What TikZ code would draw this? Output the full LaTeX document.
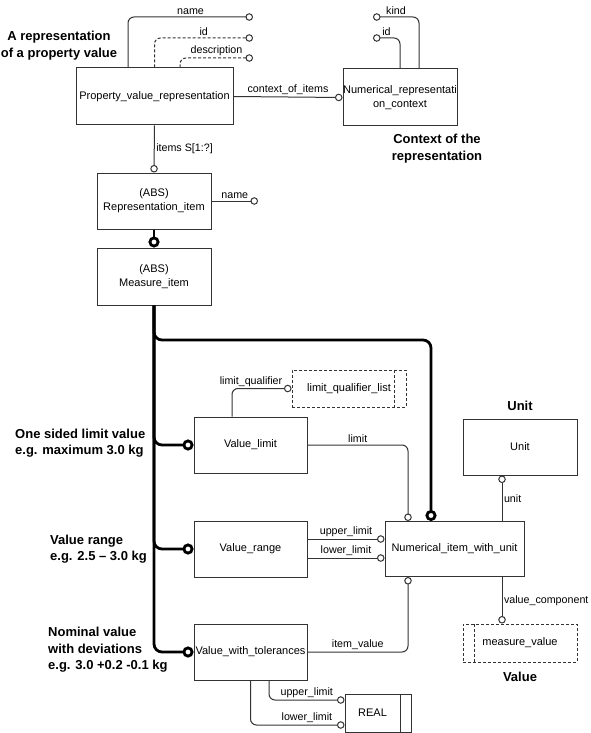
\documentclass[tikz,border=0pt]{standalone}
\usepackage{fontspec}
\setmainfont{Liberation Sans}
\usetikzlibrary{arrows.meta}
\tikzstyle{entity} = [rectangle, draw=black!80, line width=1pt, align=center, inner sep=0pt,
font=\fontsize{11}{14}\selectfont]
\tikzstyle{attr} = [draw=black!80, line width=1pt, -{Circle[open,length=7.5pt,width=7.5pt]}]
\tikzstyle{subtype} = [line width=2.8pt, rounded corners=8pt, -{Circle[open,length=11pt,width=11pt]}]
\tikzstyle{tag} = [inner sep=1.5pt, font=\fontsize{10.7}{12}\selectfont]
\tikzstyle{note} = [inner sep=0pt, font=\fontsize{13}{16.5}\selectfont\bfseries]
\tikzstyle{optional} = [dash pattern=on 3pt off 2pt]

\begin{document}
\begin{tikzpicture}[x=1pt, y=-1pt]
        \useasboundingbox (0,0) rectangle (590,733);

        % entities
        \node[entity, minimum width=157pt, minimum height=57pt] (pvr) at (154.5,96.5) {Property\_value\_representation};
        \node[entity, minimum width=114pt, minimum height=57pt] (nrc) at (400,97.5) {Numerical\_representati\\on\_context};
        \node[entity, minimum width=114pt, minimum height=56pt] (ri) at (154,201) {(ABS)\\Representation\_item};
        \node[entity, minimum width=114pt, minimum height=57pt] (mi) at (154,276.5) {(ABS)\\Measure\_item};
        \node[entity, minimum width=113pt, minimum height=56pt] (vl) at (250.5,445) {Value\_limit};
        \node[entity, optional, minimum width=114pt, minimum height=37pt] (lql) at (349,388.5) {limit\_qualifier\_list};
        \node[entity, minimum width=113pt, minimum height=56pt] (vr) at (250.5,549) {Value\_range};
        \node[entity, minimum width=139pt, minimum height=55pt] (niwu) at (454.5,549) {Numerical\_item\_with\_unit};
        \node[entity, minimum width=114pt, minimum height=56pt] (unit) at (520,447) {Unit};
        \node[entity, optional, minimum width=114pt, minimum height=38pt] (mv) at (520,643) {measure\_value};
        \node[entity, minimum width=113pt, minimum height=56pt] (vwt) at (250.5,652) {Value\_with\_tolerances};
        \node[entity, minimum width=66pt, minimum height=38pt] (real) at (378,713) {\hspace*{-11pt}REAL};

        % inner bars of the type boxes
        \draw[draw=black!80, line width=1pt, optional] ([xshift=-12pt]lql.north east) -- ([xshift=-12pt]lql.south east);
        \draw[draw=black!80, line width=1pt, optional] ([xshift=12pt]mv.north west) -- ([xshift=12pt]mv.south west);
        \draw[draw=black!80, line width=1pt] ([xshift=-11pt]real.north east) -- ([xshift=-11pt]real.south east);

        % free ends of attributes
        \coordinate (pvrname) at (253,17);
        \coordinate (pvrid) at (253,38);
        \coordinate (pvrdesc) at (253,58);
        \coordinate (nrckind) at (373,17);
        \coordinate (nrcid) at (373,38);
        \coordinate (riname) at (258,201);
        \coordinate (tap) at (431,340);

        % attributes
        \draw[attr, rounded corners=6pt] ([xshift=-26.5pt]pvr.north) |- (pvrname) node[tag, above, pos=0.75] {name};
        \draw[attr, optional, rounded corners=6pt] (pvr.north) |- (pvrid) node[tag, above, pos=0.75] {id};
        \draw[attr, optional, rounded corners=6pt] ([xshift=25.5pt]pvr.north) |- (pvrdesc) node[tag, above, pos=0.75] {description};
        \draw[attr, rounded corners=6pt] ([xshift=19pt]nrc.north) |- (nrckind) node[tag, above, pos=0.75] {kind};
        \draw[attr, rounded corners=6pt] (nrc.north) |- (nrcid) node[tag, above, pos=0.75] {id};
        \draw[attr] (pvr.east) -- (nrc.west) node[tag, above, midway] {context\_of\_items};
        \draw[attr] (pvr.south) -- (ri.north) node[tag, right, midway] {items S[1:?]};
        \draw[attr] (ri.east) -- (riname) node[tag, above, midway] {name};
        \draw[attr, rounded corners=6pt] ([xshift=-18.5pt]vl.north) |- (lql.west) node[tag, above, pos=0.66] {limit\_qualifier};
        \draw[attr, rounded corners=6pt] (vl.east) -| ([xshift=-46.5pt]niwu.north) node[tag, above, pos=0.25] {limit};
        \draw[attr] ([yshift=10pt]vr.east) -- ([yshift=10pt]niwu.west) node[tag, above, midway] {upper\_limit};
        \draw[attr] ([yshift=-9pt]vr.east) -- ([yshift=-9pt]niwu.west) node[tag, above, midway] {lower\_limit};
        \draw[attr] ([xshift=47.5pt]niwu.north) -- ([xshift=-18pt]unit.south) node[tag, right, midway] {unit};
        \draw[attr] ([xshift=47.5pt]niwu.south) -- ([xshift=-18pt]mv.north) node[tag, right, midway] {value\_component};
        \draw[attr, rounded corners=6pt] (vwt.east) -| ([xshift=-46.5pt]niwu.south) node[tag, above, pos=0.25] {item\_value};
        \draw[attr, rounded corners=6pt] ([xshift=18.5pt]vwt.south) |- ([yshift=13pt]real.west) node[tag, above, pos=0.75] {upper\_limit};
        \draw[attr, rounded corners=6pt] (vwt.south) |- ([yshift=-12pt]real.west) node[tag, above, pos=0.8] {lower\_limit};

        % subtypes
        \draw[subtype, rounded corners=0pt] (ri.south) -- (mi.north);
        \draw[subtype] (mi.south) |- (vl.west);
        \draw[subtype] (mi.south) |- (vr.west);
        \draw[subtype] (mi.south) |- (vwt.west);
        \draw[subtype] (mi.south) |- (tap) -- ([xshift=-23.5pt]niwu.north);

        % notes
        \node[note, align=center] (reprnote) at (59,45.5) {A representation\\of a property value};
        \node[note, align=center] (ctxnote) at (437,148.5) {Context of the\\representation};
        \node[note, anchor=west, align=left] (limitnote) at (15,443) {One sided limit value\\e.g. maximum 3.0 kg};
        \node[note, anchor=west, align=left] (rangenote) at (50,549) {Value range\\e.g. 2.5 – 3.0 kg};
        \node[note, anchor=west, align=left] (tolnote) at (48,650) {Nominal value\\with deviations\\e.g. 3.0 +0.2 -0.1 kg};
        \node[note] (unitnote) at (520,406) {Unit};
        \node[note] (valuenote) at (520,677) {Value};
    \end{tikzpicture}
\end{document}
